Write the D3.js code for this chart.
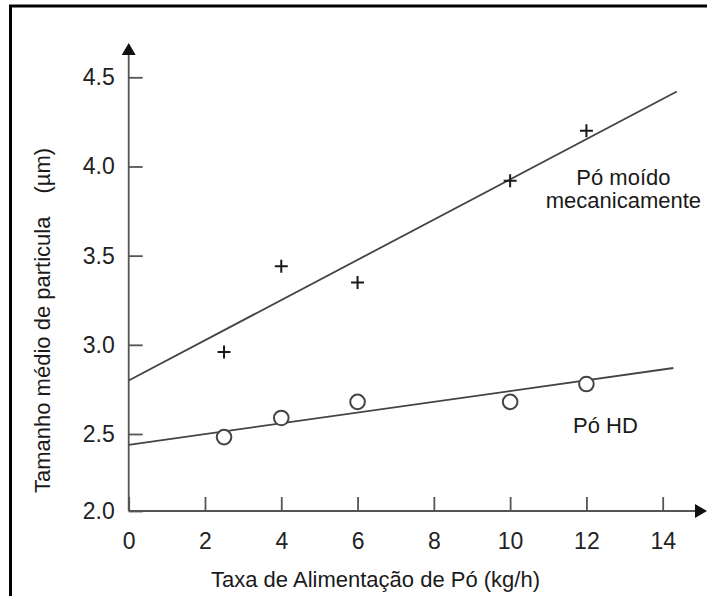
<!DOCTYPE html>
<html>
<head>
<meta charset="utf-8">
<script src="https://cdn.jsdelivr.net/npm/d3@7"></script>
<style>
  html, body { margin: 0; padding: 0; background: #fff; }
  svg { display: block; font-family: "Liberation Sans", Arial, sans-serif; }
</style>
</head>
<body>
<div id="chart"></div>
<script>
// values
const xTicks = [0, 2, 4, 6, 8, 10, 12, 14];
const yTicks = [2.0, 2.5, 3.0, 3.5, 4.0, 4.5];
const feedRate = [2.5, 4, 6, 10, 12];
const mechSize = [2.96, 3.44, 3.35, 3.92, 4.20];
const hdSize = [2.48, 2.59, 2.68, 2.68, 2.78];
const mechFit = [[0, 2.80], [14.37, 4.42]];
const hdFit = [[0, 2.43], [14.28, 2.87]];

const width = 707, height = 596;

const svg = d3.select("#chart")
  .append("svg")
  .attr("width", width)
  .attr("height", height)
  .attr("viewBox", [0, 0, width, height]);

const x = d3.scaleLinear()
  .domain([0, 14])
  .range([128.7, 662.7]);
// the axis sits a bit above where 2.0 would fall, so the scale is broken there
const y = d3.scaleLinear()
  .domain([2.0, 2.5, 4.5])
  .range([511, 434, 77.3]);

// frame (left and top edges only)
svg.append("path")
  .attr("d", "M10.5,596V6H707")
  .attr("fill", "none")
  .attr("stroke", "#000")
  .attr("stroke-width", 3);

const axisColor = "#555";

// x axis
const gx = svg.append("g")
  .attr("transform", `translate(0,${y(2.0)})`)
  .call(d3.axisBottom(x).tickValues(xTicks).tickSize(-14).tickPadding(22));
gx.select(".domain").remove();
gx.selectAll(".tick line").attr("stroke", axisColor).attr("stroke-width", 1.8);
gx.selectAll(".tick text")
  .attr("font-size", 23)
  .attr("fill", "#222")
  .attr("font-family", "Liberation Sans, Arial, sans-serif");

// y axis
const gy = svg.append("g")
  .attr("transform", `translate(${x(0)},0)`)
  .call(d3.axisLeft(y).tickValues(yTicks).tickFormat(d3.format(".1f")).tickSize(-14).tickPadding(14));
gy.select(".domain").remove();
gy.selectAll(".tick line").attr("stroke", axisColor).attr("stroke-width", 1.8);
gy.selectAll(".tick text")
  .attr("font-size", 23)
  .attr("fill", "#222")
  .attr("font-family", "Liberation Sans, Arial, sans-serif");

// axis lines with arrow heads
svg.append("line")
  .attr("x1", x(0)).attr("y1", y(2.0))
  .attr("x2", 700).attr("y2", y(2.0))
  .attr("stroke", axisColor).attr("stroke-width", 1.8);
svg.append("path")
  .attr("d", `M707,${y(2.0)}l-12,-7v14z`)
  .attr("fill", "#111");

svg.append("line")
  .attr("x1", x(0)).attr("y1", y(2.0))
  .attr("x2", x(0)).attr("y2", 52)
  .attr("stroke", axisColor).attr("stroke-width", 1.8);
svg.append("path")
  .attr("d", `M${x(0)},43l-7,12h14z`)
  .attr("fill", "#111");

// fitted lines
const line = d3.line().x(d => x(d[0])).y(d => y(d[1]));
[mechFit, hdFit].forEach(fit => {
  svg.append("path")
    .datum(fit)
    .attr("d", line)
    .attr("fill", "none")
    .attr("stroke", "#444")
    .attr("stroke-width", 1.8);
});

// mechanically milled powder: plus markers
svg.append("g")
  .selectAll("path")
  .data(feedRate)
  .join("path")
    .attr("transform", (d, i) => `translate(${x(d)},${y(mechSize[i])})`)
    .attr("d", "M-6.5,0H6.5M0,-6.5V6.5")
    .attr("stroke", "#1a1a1a")
    .attr("stroke-width", 2);

// HD powder: open circles
svg.append("g")
  .selectAll("circle")
  .data(feedRate)
  .join("circle")
    .attr("cx", d => x(d))
    .attr("cy", (d, i) => y(hdSize[i]))
    .attr("r", 7.3)
    .attr("fill", "#fff")
    .attr("stroke", "#444")
    .attr("stroke-width", 2);

// series labels
svg.append("text")
  .attr("x", x(12.97)).attr("y", y(3.896))
  .attr("text-anchor", "middle")
  .attr("font-size", 22)
  .attr("fill", "#1a1a1a")
  .text("Pó moído");
svg.append("text")
  .attr("x", x(12.97)).attr("y", y(3.767))
  .attr("text-anchor", "middle")
  .attr("font-size", 22)
  .attr("fill", "#1a1a1a")
  .text("mecanicamente");
svg.append("text")
  .attr("x", x(12.5)).attr("y", y(2.507))
  .attr("text-anchor", "middle")
  .attr("font-size", 22)
  .attr("fill", "#1a1a1a")
  .text("Pó HD");

// axis titles
svg.append("text")
  .attr("x", 375.5)
  .attr("y", 587)
  .attr("text-anchor", "middle")
  .attr("font-size", 22)
  .attr("fill", "#1a1a1a")
  .text("Taxa de Alimentação de Pó (kg/h)");

const yTitle = svg.append("text")
  .attr("transform", "translate(50,493) rotate(-90)")
  .attr("font-size", 22)
  .attr("fill", "#1a1a1a")
  .text("Tamanho médio de particula");
yTitle.append("tspan")
  .attr("dx", 23)
  .text("(µm)");
</script>
</body>
</html>
